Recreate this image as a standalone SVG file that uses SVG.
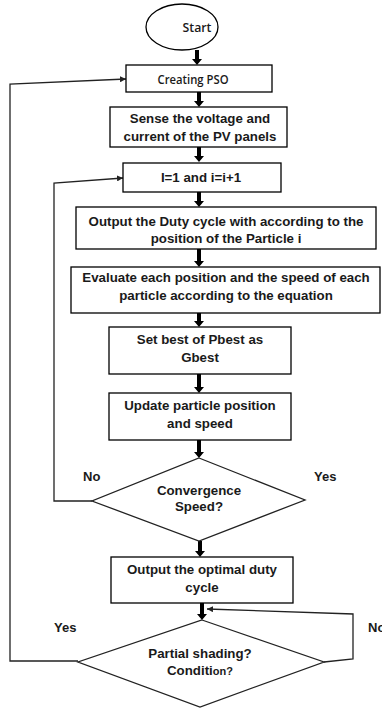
<svg xmlns="http://www.w3.org/2000/svg" width="382" height="709" viewBox="0 0 382 709">
<style>
  .box { fill: #fff; stroke: #000; stroke-width: 1.3; }
  .t { font-family: "Liberation Sans", Arial, sans-serif; font-weight: bold; font-size: 13.3px; fill: #1a1a1a; text-anchor: middle; }
  .c { font-family: "Open Sans", "Liberation Sans", sans-serif; font-weight: 600; font-size: 13px; fill: #1a1a1a; text-anchor: middle; }
  .lbl { font-family: "Liberation Sans", Arial, sans-serif; font-weight: bold; font-size: 13px; fill: #1a1a1a; }
  .ba { fill: #000; }
  .loop { fill: none; stroke: #222; stroke-width: 1.3; }
</style>
<defs>
  <marker id="ah" viewBox="0 0 10 10" refX="10" refY="5" markerWidth="6" markerHeight="6" markerUnits="userSpaceOnUse" orient="auto">
    <path d="M0,0 L10,5 L0,10 z" fill="#222"/>
  </marker>
</defs>
<rect width="382" height="709" fill="#fff"/>

<g id="connectors">
  <polygon class="ba" points="195,50 199,50 199,59 202,59 197,65 192,59 195,59"/>
  <polygon class="ba" points="197,92 201,92 201,101 204,101 199,107 194,101 197,101"/>
  <polygon class="ba" points="197,147 201,147 201,156 204,156 199,162 194,156 197,156"/>
  <polygon class="ba" points="197,192 201,192 201,201 204,201 199,207 194,201 197,201"/>
  <polygon class="ba" points="197,249 201,249 201,261 204,261 199,267 194,261 197,261"/>
  <polygon class="ba" points="197,313 201,313 201,321 204,321 199,327 194,321 197,321"/>
  <polygon class="ba" points="197,374 201,374 201,387 204,387 199,393 194,387 197,387"/>
  <polygon class="ba" points="197,440 201,440 201,452 204,452 199,458 194,452 197,452"/>
  <polygon class="ba" points="198,541 202,541 202,551 205,551 200,557 195,551 198,551"/>
  <polygon class="ba" points="200,603 204,603 204,614 207,614 202,620 197,614 200,614"/>
  <polyline class="loop" points="78,661 10,661 10,84 126,79" marker-end="url(#ah)"/>
  <polyline class="loop" points="92,501 54,501 54,183 123,178" marker-end="url(#ah)"/>
  <polyline class="loop" points="324,662 353,659 353,614 207,609" marker-end="url(#ah)"/>
</g>

<g id="start">
  <ellipse cx="182" cy="27" rx="36" ry="23" fill="#fff" stroke="#000" stroke-width="1.3"/>
  <text class="c" x="197" y="32" textLength="29" lengthAdjust="spacingAndGlyphs">Start</text>
</g>

<g id="create">
  <rect class="box" x="126" y="65" width="146" height="27"/>
  <text class="c" x="193" y="83.5" textLength="71" lengthAdjust="spacingAndGlyphs">Creating PSO</text>
</g>

<g id="sense">
  <rect class="box" x="110" y="107" width="177" height="40"/>
  <text class="t" x="200" y="123">Sense the voltage and</text>
  <text class="t" x="200" y="141">current of the PV panels</text>
</g>

<g id="init">
  <rect class="box" x="123" y="163" width="158" height="29"/>
  <text class="t" x="201" y="182">I=1 and i=i+1</text>
</g>

<g id="outduty">
  <rect class="box" x="76" y="207" width="300" height="42"/>
  <text class="t" x="226" y="226">Output the Duty cycle with according to the</text>
  <text class="t" x="226" y="243">position of the Particle i</text>
</g>

<g id="evaluate">
  <rect class="box" x="71" y="267" width="309" height="46"/>
  <text class="t" x="226" y="282">Evaluate each position and the speed of each</text>
  <text class="t" x="226" y="300">particle according to the equation</text>
</g>

<g id="setbest">
  <rect class="box" x="109" y="327" width="182" height="47"/>
  <text class="t" x="200" y="344">Set best of Pbest as</text>
  <text class="t" x="200" y="362">Gbest</text>
</g>

<g id="update">
  <rect class="box" x="109" y="393" width="182" height="47"/>
  <text class="t" x="200" y="410">Update particle position</text>
  <text class="t" x="200" y="428">and speed</text>
</g>

<g id="converge">
  <polygon points="199,458 305,500 199,541 92,501" fill="#fff" stroke="#222" stroke-width="1.3"/>
  <text class="t" x="199" y="495">Convergence</text>
  <text class="t" x="199" y="511">Speed?</text>
  <text class="lbl" x="83" y="481">No</text>
  <text class="lbl" x="314" y="481">Yes</text>
</g>

<g id="optimal">
  <rect class="box" x="111" y="557" width="182" height="46"/>
  <text class="t" x="202" y="574">Output the optimal duty</text>
  <text class="t" x="202" y="592">cycle</text>
</g>

<g id="shading">
  <polygon points="202,620 324,662 200,707 78,662" fill="#fff" stroke="#222" stroke-width="1.3"/>
  <text class="t" x="200" y="658">Partial shading?</text>
  <text class="t" x="200" y="675">Conditi<tspan font-size="11px">on?</tspan></text>
  <text class="lbl" x="54" y="632">Yes</text>
  <text class="lbl" x="368" y="632">No</text>
</g>
</svg>
